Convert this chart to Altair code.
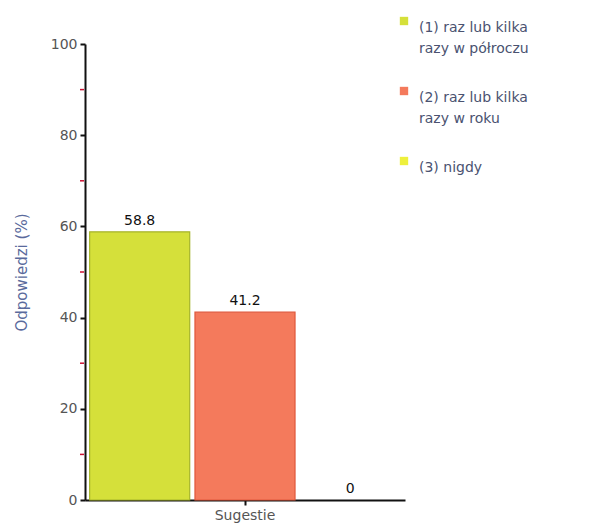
import altair as alt
import pandas as pd

categories = ["(1) raz lub kilka|razy w półroczu", "(2) raz lub kilka|razy w roku", "(3) nigdy"]
values = [58.8, 41.2, 0]
value_labels = ["58.8", "41.2", "0"]
group = ["Sugestie", "Sugestie", "Sugestie"]
fills = ["#d5e03a", "#f47a5c", "#eef03c"]
strokes = ["#a6b42a", "#e0583c", "transparent"]
y_ticks = [0, 20, 40, 60, 80, 100]
minor_ticks = [10, 30, 50, 70, 90]

df = pd.DataFrame({"cat": categories, "val": values, "grp": group, "lbl": value_labels})
minor = pd.DataFrame({"m": minor_ticks})

FONT = "DejaVu Sans"

x = alt.X(
    "grp:N", title=None,
    scale=alt.Scale(paddingInner=0, paddingOuter=0.015),
    axis=alt.Axis(labelAngle=0, domainColor="#111111", domainWidth=2, tickColor="#111111",
                  tickSize=5, tickWidth=2, labelColor="#555555", labelFontSize=14,
                  labelPadding=3, labelFont=FONT),
)
xo = alt.XOffset("cat:N", sort=categories, scale=alt.Scale(paddingInner=0.05, paddingOuter=0))
y = alt.Y(
    "val:Q", scale=alt.Scale(domain=[0, 100]),
    axis=alt.Axis(values=y_ticks, title="Odpowiedzi (%)", grid=False, domainColor="#111111",
                  domainWidth=2, tickColor="#111111", tickSize=5, tickWidth=2,
                  labelColor="#555555", labelFontSize=14, labelFont=FONT, labelPadding=3,
                  titleColor="#5a6a9c", titleFontSize=15, titleFont=FONT, titleFontWeight="normal",
                  titlePadding=21),
)

bars = alt.Chart(df).mark_bar(strokeWidth=1.2).encode(
    x=x, xOffset=xo, y=y,
    color=alt.Color("cat:N", sort=categories, scale=alt.Scale(domain=categories, range=fills),
                    legend=alt.Legend(title=None, orient="none", legendX=312, legendY=-30,
                                      labelExpr="split(datum.label, '|')", labelFont=FONT,
                                      labelFontSize=14, labelColor="#4a5270", symbolType="square",
                                      symbolSize=70, symbolStrokeWidth=0, rowPadding=28,
                                      labelBaseline="top", labelOffset=8, labelLimit=200)),
    stroke=alt.Stroke("cat:N", sort=categories, scale=alt.Scale(domain=categories, range=strokes),
                      legend=None),
)

texts = alt.Chart(df).mark_text(dy=-11, fontSize=14, font=FONT, color="#111111").encode(
    x=x, xOffset=xo, y=alt.Y("val:Q"), text="lbl:N"
)

minor_rules = alt.Chart(minor).mark_rule(color="#cc1133", strokeWidth=1.5).encode(
    y=alt.Y("m:Q"), x=alt.value(-5), x2=alt.value(-1)
)

chart = alt.layer(bars, texts, minor_rules).properties(
    width=320, height=456,
    autosize=alt.AutoSizeParams(type="none"),
    padding={"left": 77, "top": 36, "right": 180, "bottom": 26},
    background="white",
).configure(style={"guide-label": {"lineHeight": 21}}).configure_view(stroke=None)

chart.save("out.html", embed_options={"renderer": "svg", "actions": False})
